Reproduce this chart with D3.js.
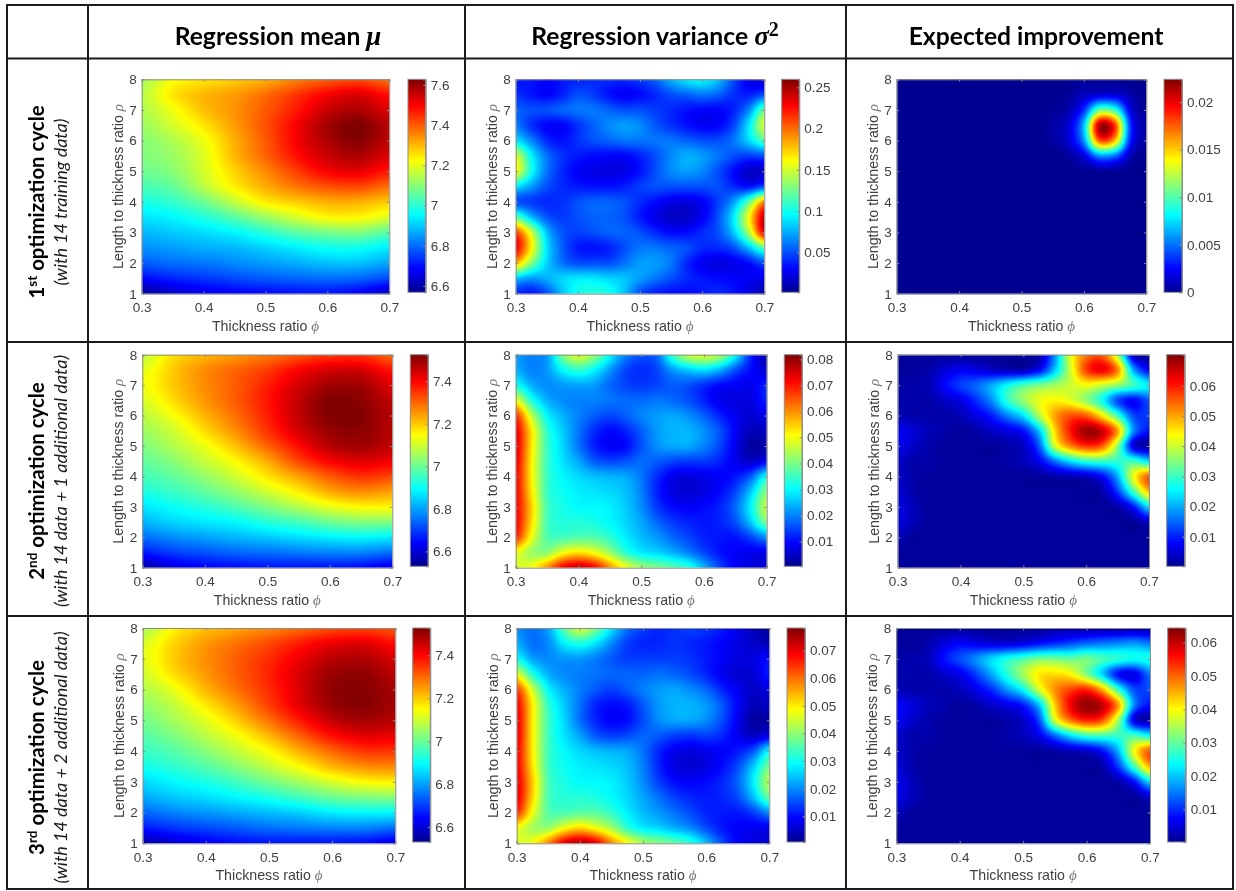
<!DOCTYPE html>
<html>
<head>
<meta charset="utf-8">
<script src="https://cdn.jsdelivr.net/npm/d3@7"></script>
<style>
html, body { margin: 0; padding: 0; background: #fff; }
svg { display: block; filter: blur(0.4px); }
</style>
</head>
<body>
<svg id="chart" width="1236" height="891"></svg>
<script>
// grid of the values, rows go from rho = 8 down to rho = 1
var rhoGrid = [8, 7.5, 7, 6.5, 6, 5.5, 5, 4.5, 4, 3.5, 3, 2.5, 2, 1.5, 1];
var phiCoarse = [.3, .35, .4, .45, .5, .55, .6, .65, .7];
var phiFine = [.3, .325, .35, .375, .4, .425, .45, .475, .5, .525, .55, .575, .6, .625, .65, .675, .7];

var mean1 = [
    [7.13, 7.22, 7.25, 7.28, 7.31, 7.36, 7.40, 7.42, 7.38],
    [7.15, 7.25, 7.30, 7.33, 7.38, 7.44, 7.50, 7.53, 7.48],
    [7.14, 7.21, 7.29, 7.34, 7.40, 7.47, 7.55, 7.58, 7.53],
    [7.12, 7.18, 7.25, 7.33, 7.41, 7.50, 7.59, 7.63, 7.57],
    [7.10, 7.14, 7.21, 7.31, 7.40, 7.50, 7.58, 7.62, 7.56],
    [7.09, 7.12, 7.19, 7.30, 7.39, 7.48, 7.55, 7.58, 7.53],
    [7.07, 7.10, 7.18, 7.27, 7.35, 7.43, 7.50, 7.52, 7.47],
    [7.03, 7.06, 7.15, 7.24, 7.31, 7.37, 7.41, 7.42, 7.38],
    [6.98, 7.01, 7.07, 7.16, 7.24, 7.28, 7.31, 7.31, 7.28],
    [6.93, 6.95, 6.99, 7.05, 7.12, 7.18, 7.23, 7.23, 7.19],
    [6.88, 6.90, 6.92, 6.95, 7.00, 7.05, 7.08, 7.09, 7.05],
    [6.84, 6.85, 6.87, 6.88, 6.91, 6.94, 6.97, 6.97, 6.94],
    [6.78, 6.80, 6.81, 6.83, 6.85, 6.87, 6.89, 6.89, 6.86],
    [6.69, 6.72, 6.74, 6.76, 6.78, 6.79, 6.80, 6.79, 6.76],
    [6.58, 6.63, 6.66, 6.68, 6.69, 6.70, 6.70, 6.68, 6.62]
];
var mean2 = [
    [7.08, 7.18, 7.22, 7.25, 7.28, 7.32, 7.35, 7.35, 7.30],
    [7.12, 7.20, 7.26, 7.30, 7.34, 7.40, 7.44, 7.44, 7.38],
    [7.13, 7.20, 7.26, 7.31, 7.37, 7.44, 7.49, 7.49, 7.43],
    [7.11, 7.18, 7.25, 7.31, 7.38, 7.46, 7.52, 7.51, 7.46],
    [7.08, 7.14, 7.22, 7.29, 7.37, 7.46, 7.52, 7.52, 7.47],
    [7.05, 7.10, 7.18, 7.26, 7.35, 7.44, 7.50, 7.51, 7.47],
    [7.02, 7.07, 7.13, 7.21, 7.30, 7.39, 7.47, 7.49, 7.46],
    [6.99, 7.03, 7.09, 7.15, 7.23, 7.33, 7.40, 7.43, 7.41],
    [6.96, 6.99, 7.04, 7.10, 7.17, 7.24, 7.31, 7.35, 7.33],
    [6.92, 6.95, 6.99, 7.04, 7.10, 7.16, 7.23, 7.26, 7.24],
    [6.87, 6.90, 6.93, 6.97, 7.02, 7.07, 7.12, 7.15, 7.15],
    [6.82, 6.85, 6.87, 6.89, 6.93, 6.96, 7.00, 7.02, 7.02],
    [6.75, 6.78, 6.80, 6.82, 6.84, 6.86, 6.88, 6.89, 6.88],
    [6.66, 6.70, 6.72, 6.74, 6.75, 6.76, 6.77, 6.77, 6.75],
    [6.56, 6.61, 6.64, 6.65, 6.66, 6.66, 6.66, 6.65, 6.62]
];
var mean3 = [
    [7.06, 7.16, 7.21, 7.24, 7.27, 7.30, 7.33, 7.34, 7.32],
    [7.11, 7.19, 7.25, 7.29, 7.33, 7.38, 7.42, 7.43, 7.39],
    [7.12, 7.20, 7.26, 7.31, 7.36, 7.42, 7.47, 7.48, 7.44],
    [7.10, 7.18, 7.25, 7.31, 7.37, 7.44, 7.50, 7.51, 7.47],
    [7.07, 7.13, 7.22, 7.29, 7.36, 7.44, 7.51, 7.52, 7.49],
    [7.04, 7.09, 7.17, 7.25, 7.34, 7.43, 7.50, 7.52, 7.49],
    [7.01, 7.06, 7.12, 7.20, 7.29, 7.38, 7.46, 7.49, 7.47],
    [6.98, 7.02, 7.08, 7.14, 7.22, 7.31, 7.39, 7.43, 7.42],
    [6.95, 6.98, 7.03, 7.09, 7.15, 7.23, 7.30, 7.35, 7.35],
    [6.91, 6.94, 6.98, 7.03, 7.09, 7.15, 7.22, 7.26, 7.27],
    [6.86, 6.89, 6.92, 6.96, 7.01, 7.06, 7.11, 7.15, 7.16],
    [6.81, 6.84, 6.86, 6.89, 6.92, 6.96, 7.00, 7.02, 7.03],
    [6.74, 6.77, 6.79, 6.81, 6.83, 6.85, 6.88, 6.89, 6.89],
    [6.66, 6.69, 6.71, 6.73, 6.75, 6.76, 6.77, 6.77, 6.75],
    [6.56, 6.60, 6.63, 6.65, 6.66, 6.66, 6.66, 6.65, 6.62]
];

var variance1 = [
    [.035, .035, .03, .035, .038, .04, .04, .04, .045, .055, .075, .09, .095, .08, .05, .025, .02],
    [.042, .035, .03, .038, .05, .045, .034, .028, .032, .04, .05, .055, .06, .055, .042, .037, .05],
    [.055, .05, .05, .055, .06, .06, .055, .05, .05, .045, .04, .034, .03, .03, .038, .065, .12],
    [.062, .042, .03, .03, .042, .055, .065, .07, .065, .052, .042, .034, .028, .03, .047, .09, .15],
    [.09, .065, .04, .034, .042, .05, .055, .06, .06, .06, .06, .055, .05, .05, .06, .085, .115],
    [.15, .095, .06, .042, .036, .032, .03, .03, .038, .05, .065, .075, .07, .06, .05, .045, .05],
    [.16, .10, .06, .04, .028, .024, .022, .024, .034, .05, .065, .07, .065, .05, .032, .016, .018],
    [.09, .07, .05, .04, .036, .034, .034, .037, .045, .05, .05, .05, .05, .05, .04, .034, .05],
    [.05, .045, .04, .042, .05, .055, .055, .05, .04, .032, .024, .022, .028, .045, .07, .12, .19],
    [.12, .08, .052, .045, .05, .055, .055, .05, .036, .024, .016, .016, .028, .05, .09, .16, .24],
    [.21, .15, .08, .052, .046, .05, .055, .055, .05, .04, .032, .032, .04, .05, .08, .14, .23],
    [.23, .165, .09, .055, .036, .034, .038, .05, .06, .06, .055, .05, .04, .04, .05, .08, .12],
    [.18, .13, .085, .06, .05, .05, .05, .06, .07, .07, .06, .04, .026, .022, .025, .032, .05],
    [.08, .07, .075, .085, .09, .09, .085, .08, .07, .06, .05, .04, .035, .032, .03, .027, .025],
    [.04, .034, .05, .08, .10, .105, .10, .08, .05, .037, .032, .032, .035, .04, .035, .022, .01]
];
var variance2 = [
    [.022, .02, .022, .04, .048, .042, .03, .02, .016, .018, .035, .046, .048, .044, .03, .012, .003],
    [.024, .02, .022, .03, .034, .03, .022, .015, .013, .015, .022, .026, .028, .024, .016, .01, .006],
    [.032, .024, .021, .022, .023, .022, .018, .015, .014, .015, .017, .016, .013, .01, .009, .008, .012],
    [.05, .033, .024, .021, .02, .02, .019, .018, .018, .019, .018, .016, .012, .008, .007, .007, .012],
    [.068, .046, .03, .024, .02, .017, .015, .017, .02, .022, .023, .021, .017, .012, .008, .006, .008],
    [.073, .053, .034, .026, .019, .013, .01, .012, .017, .022, .024, .024, .021, .016, .009, .004, .005],
    [.074, .053, .035, .027, .019, .012, .009, .01, .016, .021, .023, .023, .02, .015, .008, .002, .003],
    [.073, .052, .035, .028, .023, .017, .015, .016, .018, .017, .015, .014, .014, .012, .008, .005, .009],
    [.072, .052, .035, .03, .027, .025, .024, .023, .019, .013, .008, .007, .008, .009, .011, .017, .031],
    [.072, .053, .035, .031, .029, .028, .027, .025, .02, .012, .007, .006, .007, .01, .015, .026, .041],
    [.072, .055, .036, .032, .03, .03, .029, .026, .021, .014, .01, .009, .01, .012, .018, .03, .046],
    [.072, .054, .036, .033, .033, .032, .03, .027, .023, .018, .014, .012, .011, .012, .016, .026, .04],
    [.068, .05, .037, .036, .037, .037, .034, .029, .025, .022, .018, .015, .012, .011, .011, .015, .021],
    [.05, .043, .042, .05, .053, .05, .043, .034, .029, .027, .024, .02, .015, .011, .009, .008, .008],
    [.048, .05, .06, .072, .076, .072, .06, .05, .043, .04, .037, .033, .024, .015, .009, .007, .006]
];
var variance3 = [
    [.02, .018, .022, .036, .045, .038, .027, .018, .014, .012, .013, .014, .013, .011, .008, .004, .002],
    [.023, .018, .02, .028, .031, .027, .02, .014, .012, .012, .013, .012, .011, .009, .007, .005, .004],
    [.03, .022, .02, .021, .021, .019, .016, .014, .014, .014, .014, .013, .011, .009, .007, .007, .01],
    [.047, .032, .023, .02, .019, .018, .017, .017, .017, .018, .017, .015, .012, .008, .006, .006, .011],
    [.064, .045, .029, .023, .019, .016, .014, .016, .019, .021, .022, .02, .017, .012, .008, .005, .007],
    [.069, .05, .033, .025, .018, .012, .01, .011, .016, .021, .023, .023, .021, .016, .009, .004, .005],
    [.07, .05, .034, .026, .018, .012, .009, .01, .015, .02, .022, .022, .02, .015, .008, .002, .003],
    [.07, .05, .034, .027, .022, .016, .014, .015, .017, .016, .014, .013, .014, .012, .008, .005, .008],
    [.069, .05, .034, .029, .026, .024, .023, .022, .018, .012, .008, .007, .008, .009, .011, .016, .029],
    [.069, .051, .034, .03, .028, .027, .026, .024, .019, .012, .007, .006, .007, .01, .015, .025, .038],
    [.07, .053, .035, .031, .029, .029, .028, .025, .02, .014, .01, .009, .01, .012, .017, .028, .043],
    [.07, .052, .035, .032, .032, .031, .029, .026, .022, .018, .014, .012, .011, .012, .015, .024, .037],
    [.065, .048, .036, .035, .036, .036, .033, .028, .024, .021, .018, .015, .012, .011, .011, .014, .02],
    [.048, .042, .041, .048, .052, .048, .042, .033, .028, .026, .023, .02, .015, .011, .009, .008, .008],
    [.046, .048, .058, .07, .074, .07, .058, .049, .042, .039, .036, .032, .024, .015, .009, .007, .006]
];

var improvement1 = [
    [0, 0, 0, 0, 0, 0, 0, 0, 0, 0, 0, 0, .0003, .0003, .0003, 0, 0],
    [0, 0, 0, 0, 0, 0, 0, 0, 0, 0, 0, .0002, .001, .0016, .0016, .0006, 0],
    [0, 0, 0, 0, 0, 0, 0, 0, 0, 0, .0002, .0007, .0035, .0105, .0092, .0018, .0002],
    [0, 0, 0, 0, 0, 0, 0, 0, 0, 0, .0005, .0015, .0068, .0211, .0182, .0035, .0005],
    [0, 0, 0, 0, 0, 0, 0, 0, 0, 0, .0004, .0015, .0058, .0176, .0152, .003, .0004],
    [0, 0, 0, 0, 0, 0, 0, 0, 0, 0, 0, .0003, .0018, .0057, .0049, .0008, 0],
    [0, 0, 0, 0, 0, 0, 0, 0, 0, 0, 0, 0, .0001, .0002, .0002, 0, 0],
    [0, 0, 0, 0, 0, 0, 0, 0, 0, 0, 0, 0, 0, 0, 0, 0, 0],
    [0, 0, 0, 0, 0, 0, 0, 0, 0, 0, 0, 0, 0, 0, 0, 0, 0],
    [0, 0, 0, 0, 0, 0, 0, 0, 0, 0, 0, 0, 0, 0, 0, 0, 0],
    [0, 0, 0, 0, 0, 0, 0, 0, 0, 0, 0, 0, 0, 0, 0, 0, 0],
    [0, 0, 0, 0, 0, 0, 0, 0, 0, 0, 0, 0, 0, 0, 0, 0, 0],
    [0, 0, 0, 0, 0, 0, 0, 0, 0, 0, 0, 0, 0, 0, 0, 0, 0],
    [0, 0, 0, 0, 0, 0, 0, 0, 0, 0, 0, 0, 0, 0, 0, 0, 0],
    [0, 0, 0, 0, 0, 0, 0, 0, 0, 0, 0, 0, 0, 0, 0, 0, 0]
];
var improvement2 = [
    [.001, .001, .001, .001, .001, .001, .001, .001, .001, .002, .018, .042, .053, .055, .038, .004, .001],
    [.001, .001, .002, .005, .007, .006, .004, .003, .003, .008, .022, .04, .057, .062, .052, .02, .008],
    [.002, .002, .003, .008, .012, .015, .02, .026, .031, .034, .037, .04, .043, .04, .036, .03, .025],
    [.002, .002, .002, .004, .006, .011, .018, .029, .036, .042, .044, .042, .036, .027, .013, .008, .014],
    [.003, .002, .002, .002, .003, .006, .01, .017, .024, .038, .05, .056, .055, .045, .03, .013, .012],
    [.007, .005, .003, .002, .001, .002, .004, .006, .009, .022, .046, .06, .068, .065, .05, .018, .009],
    [.007, .004, .002, .001, .001, .001, .001, .002, .004, .014, .04, .052, .058, .055, .036, .006, .002],
    [.004, .002, .002, .001, .001, .001, .001, .002, .003, .007, .016, .024, .029, .03, .029, .03, .024],
    [.004, .002, .001, .001, .001, .001, .001, .001, .001, .001, .002, .003, .004, .008, .02, .042, .055],
    [.005, .002, .001, .001, .001, .001, .001, .001, .001, .001, .001, .001, .001, .002, .012, .03, .048],
    [.006, .003, .001, .001, .001, .001, .001, .001, .001, .001, .001, .001, .001, .001, .002, .009, .024],
    [.006, .003, .001, .001, .001, .001, .001, .001, .001, .001, .001, .001, .001, .001, .001, .001, .004],
    [.003, .001, .001, .001, .001, .001, .001, .001, .001, .001, .001, .001, .001, .001, .001, .001, .001],
    [.001, .001, .001, .001, .001, .001, .001, .001, .001, .001, .001, .001, .001, .001, .001, .001, .001],
    [.001, .001, .001, .001, .001, .001, .001, .001, .001, .001, .001, .001, .001, .001, .001, .001, .001]
];
var improvement3 = [
    [.001, .001, .001, .001, .001, .001, .001, .001, .001, .001, .002, .002, .002, .002, .002, .002, .002],
    [.001, .001, .002, .005, .007, .006, .005, .005, .006, .008, .01, .012, .014, .015, .016, .017, .015],
    [.002, .002, .003, .008, .012, .016, .021, .025, .028, .031, .031, .03, .031, .028, .026, .024, .025],
    [.002, .002, .002, .004, .006, .011, .018, .026, .034, .041, .042, .04, .032, .021, .008, .006, .015],
    [.003, .002, .002, .002, .003, .006, .01, .017, .024, .037, .047, .052, .054, .045, .027, .012, .012],
    [.007, .005, .003, .002, .001, .002, .004, .006, .009, .02, .043, .057, .063, .06, .046, .016, .008],
    [.007, .004, .002, .001, .001, .001, .001, .002, .004, .012, .037, .049, .054, .051, .034, .006, .002],
    [.004, .002, .002, .001, .001, .001, .001, .002, .003, .006, .014, .022, .027, .028, .027, .028, .024],
    [.004, .002, .001, .001, .001, .001, .001, .001, .001, .001, .002, .003, .004, .008, .019, .039, .051],
    [.005, .002, .001, .001, .001, .001, .001, .001, .001, .001, .001, .001, .001, .002, .011, .028, .045],
    [.006, .003, .001, .001, .001, .001, .001, .001, .001, .001, .001, .001, .001, .001, .002, .008, .022],
    [.006, .003, .001, .001, .001, .001, .001, .001, .001, .001, .001, .001, .001, .001, .001, .001, .004],
    [.003, .001, .001, .001, .001, .001, .001, .001, .001, .001, .001, .001, .001, .001, .001, .001, .001],
    [.001, .001, .001, .001, .001, .001, .001, .001, .001, .001, .001, .001, .001, .001, .001, .001, .001],
    [.001, .001, .001, .001, .001, .001, .001, .001, .001, .001, .001, .001, .001, .001, .001, .001, .001]
];

var phiTicks = [.3, .4, .5, .6, .7];
var rhoTicks = [1, 2, 3, 4, 5, 6, 7, 8];

// what each panel shows: values, phi grid, colorbar limits and ticks
var panels = [
    {z: mean1, phi: phiCoarse, limits: [6.568, 7.628], ticks: [6.6, 6.8, 7, 7.2, 7.4, 7.6]},
    {z: variance1, phi: phiFine, limits: [.0015, .2597], ticks: [.05, .1, .15, .2, .25]},
    {z: improvement1, phi: phiFine, limits: [0, .0224], ticks: [0, .005, .01, .015, .02]},
    {z: mean2, phi: phiCoarse, limits: [6.53, 7.524], ticks: [6.6, 6.8, 7, 7.2, 7.4]},
    {z: variance2, phi: phiFine, limits: [.0005, .0818], ticks: [.01, .02, .03, .04, .05, .06, .07, .08]},
    {z: improvement2, phi: phiFine, limits: [.0002, .0703], ticks: [.01, .02, .03, .04, .05, .06]},
    {z: mean3, phi: phiCoarse, limits: [6.53, 7.527], ticks: [6.6, 6.8, 7, 7.2, 7.4]},
    {z: variance3, phi: phiFine, limits: [.0007, .0782], ticks: [.01, .02, .03, .04, .05, .06, .07]},
    {z: improvement3, phi: phiFine, limits: [.0002, .0644], ticks: [.01, .02, .03, .04, .05, .06]}
];

// where each panel sits on the page: plot box and colorbar left/right
var frames = [
    [141.7, 389.3, 79.3, 293.7, 408, 425.7, 292.3],
    [515.7, 764.3, 79.3, 293.7, 781.7, 799.3, 292.3],
    [896.7, 1146.3, 79.3, 293.7, 1164, 1182, 292.3],
    [142.3, 392.3, 354.7, 567.7, 410.3, 428, 566.3],
    [515.7, 766.7, 354.7, 567.7, 784.3, 802, 566.3],
    [897.7, 1149, 354.7, 567.7, 1166.7, 1184.7, 566.3],
    [142.7, 395.3, 628, 843.3, 412.7, 430.3, 842],
    [516.7, 769.3, 628, 843.3, 787, 805, 842],
    [896.3, 1150, 628, 843.3, 1167.7, 1185.7, 842]
];

var svg = d3.select("#chart");
var gray = "#404040";
var boxGray = "#8c8c8c";

// jet, with the stops where matlab has them
var jetStops = [0, .11, .365, .62, .875, 1];
var jetColors = ["#000090", "#0000ff", "#00ffff", "#ffff00", "#ff0000", "#800000"];
var jet = d3.scaleLinear().domain(jetStops).range(jetColors).clamp(true);
var jetTable = d3.range(512).map(function (i) {
    return d3.rgb(jet(i / 511));
});

// table lines
var tableX = [7, 88, 465, 846, 1233];
var tableY = [5, 58.5, 342, 616, 889];
svg.append("g").selectAll("line").data(tableX).enter().append("line")
    .attr("x1", function (d) { return d; }).attr("x2", function (d) { return d; })
    .attr("y1", tableY[0] - 1).attr("y2", tableY[4] + 1)
    .attr("stroke", "#1c1c1c").attr("stroke-width", 2);
svg.append("g").selectAll("line").data(tableY).enter().append("line")
    .attr("y1", function (d) { return d; }).attr("y2", function (d) { return d; })
    .attr("x1", tableX[0] - 1).attr("x2", tableX[4] + 1)
    .attr("stroke", "#1c1c1c").attr("stroke-width", 2);

// column headers
var headerFont = "Lato, 'Open Sans', sans-serif";
var mathFont = "'Liberation Serif', 'DejaVu Serif', serif";
function header(cx, label, symbol, power) {
    var t = svg.append("text").attr("x", cx).attr("y", 44.5)
        .attr("text-anchor", "middle")
        .attr("font-family", headerFont).attr("font-weight", 700)
        .attr("font-size", 24.7).attr("fill", "#000")
        .text(label);
    if (symbol) {
        t.append("tspan").attr("font-family", mathFont).attr("font-style", "italic")
            .attr("font-size", 27).text(symbol);
    }
    if (power) {
        t.append("tspan").attr("font-family", mathFont).attr("font-size", 20)
            .attr("dy", -9).text(power);
    }
}
header(278, "Regression mean ", "\u03bc");
header(655, "Regression variance ", "\u03c3", "2");
header(1036, "Expected improvement");

// row labels, turned 90 degrees
var rowLabels = [
    {cy: 202, nth: "1", sup: "st", note: "(with 14 training data)"},
    {cy: 481, nth: "2", sup: "nd", note: "(with 14 data + 1 additional data)"},
    {cy: 757.5, nth: "3", sup: "rd", note: "(with 14 data + 2 additional data)"}
];
rowLabels.forEach(function (r) {
    var first = svg.append("text")
        .attr("transform", "translate(44," + r.cy + ") rotate(-90)")
        .attr("text-anchor", "middle")
        .attr("font-family", headerFont).attr("font-weight", 700)
        .attr("font-size", 20.4).attr("fill", "#000");
    first.append("tspan").text(r.nth);
    first.append("tspan").attr("font-size", 13.5).attr("dy", -7).text(r.sup);
    first.append("tspan").attr("dy", 7).text(" optimization cycle");
    svg.append("text")
        .attr("transform", "translate(67," + r.cy + ") rotate(-90)")
        .attr("text-anchor", "middle")
        .attr("font-family", headerFont).attr("font-style", "italic")
        .attr("font-size", 18).attr("fill", "#1a1a1a")
        .text(r.note);
});

// catmull-rom through the read values so the field is shaded smooth like the original
function cubic(a, b, c, d, t) {
    return b + 0.5 * t * (c - a + t * (2 * a - 5 * b + 4 * c - d + t * (3 * (b - c) + d - a)));
}
function sampler(z) {
    var rows = z.length, cols = z[0].length;
    function at(r, c) {
        return z[Math.max(0, Math.min(rows - 1, r))][Math.max(0, Math.min(cols - 1, c))];
    }
    return function (u, v) {
        var c = Math.floor(u), r = Math.floor(v);
        var tu = u - c, tv = v - r;
        var line = [-1, 0, 1, 2].map(function (k) {
            return cubic(at(r + k, c - 1), at(r + k, c), at(r + k, c + 1), at(r + k, c + 2), tu);
        });
        return cubic(line[0], line[1], line[2], line[3], tv);
    };
}

function drawPanel(p, f) {
    var x0 = f[0], x1 = f[1], y0 = f[2], y1 = f[3];
    var x = d3.scaleLinear().domain([.3, .7]).range([x0, x1]);
    var y = d3.scaleLinear().domain([1, 8]).range([y1, y0]);
    var colorPos = d3.scaleLinear().domain(p.limits).range([0, 511]).clamp(true);
    var col = d3.scaleLinear().domain([p.phi[0], p.phi[p.phi.length - 1]]).range([0, p.phi.length - 1]);
    var row = d3.scaleLinear().domain([rhoGrid[0], rhoGrid[rhoGrid.length - 1]]).range([0, rhoGrid.length - 1]);
    var value = sampler(p.z);

    var w = Math.round(x1 - x0), h = Math.round(y1 - y0);
    var canvas = document.createElement("canvas");
    canvas.width = w;
    canvas.height = h;
    var ctx = canvas.getContext("2d");
    var img = ctx.createImageData(w, h);
    for (var j = 0; j < h; j++) {
        var rho = y.invert(y0 + (j + 0.5) * (y1 - y0) / h);
        for (var i = 0; i < w; i++) {
            var phi = x.invert(x0 + (i + 0.5) * (x1 - x0) / w);
            var c = jetTable[Math.round(colorPos(value(col(phi), row(rho))))];
            var n = (j * w + i) * 4;
            img.data[n] = c.r;
            img.data[n + 1] = c.g;
            img.data[n + 2] = c.b;
            img.data[n + 3] = 255;
        }
    }
    ctx.putImageData(img, 0, 0);

    var g = svg.append("g");
    g.append("image")
        .attr("x", x0).attr("y", y0)
        .attr("width", x1 - x0).attr("height", y1 - y0)
        .attr("preserveAspectRatio", "none")
        .attr("href", canvas.toDataURL());

    // axes with inward ticks, matlab style
    var bottom = g.append("g").attr("transform", "translate(0," + y1 + ")")
        .call(d3.axisBottom(x).tickValues(phiTicks).tickSize(-2.5).tickPadding(9).tickFormat(d3.format(".1f")));
    var left = g.append("g").attr("transform", "translate(" + x0 + ",0)")
        .call(d3.axisLeft(y).tickValues(rhoTicks).tickSize(-2.5).tickPadding(5).tickFormat(d3.format("d")));
    var top = g.append("g").attr("transform", "translate(0," + y0 + ")")
        .call(d3.axisTop(x).tickValues(phiTicks).tickSize(-2.5).tickFormat(""));
    var right = g.append("g").attr("transform", "translate(" + x1 + ",0)")
        .call(d3.axisRight(y).tickValues(rhoTicks).tickSize(-2.5).tickFormat(""));
    [bottom, left, top, right].forEach(function (a) {
        a.selectAll("path, line").attr("stroke", boxGray).attr("stroke-width", 1);
        a.selectAll("text").attr("font-family", "'Liberation Sans', Arial, sans-serif")
            .attr("font-size", 13.5).attr("fill", gray);
    });

    var labelFont = "'Liberation Sans', Arial, sans-serif";
    var xLabel = g.append("text")
        .attr("x", (x0 + x1) / 2).attr("y", y1 + 37)
        .attr("text-anchor", "middle")
        .attr("font-family", labelFont).attr("font-size", 14.2).attr("fill", gray)
        .text("Thickness ratio ");
    xLabel.append("tspan").attr("font-style", "italic").attr("font-family", mathFont)
        .attr("fill", "#777").attr("font-size", 15).text("\u03d5");
    var yLabel = g.append("text")
        .attr("transform", "translate(" + (x0 - 19) + "," + (y0 + y1) / 2 + ") rotate(-90)")
        .attr("text-anchor", "middle")
        .attr("font-family", labelFont).attr("font-size", 14.2).attr("fill", gray)
        .text("Length to thickness ratio ");
    yLabel.append("tspan").attr("font-style", "italic").attr("font-family", mathFont)
        .attr("fill", "#777").attr("font-size", 15).text("\u03c1");

    // colorbar
    var barLeft = f[4], barRight = f[5], barBottom = f[6];
    var barScale = d3.scaleLinear().domain(p.limits).range([barBottom, y0]);
    var gradId = "jet" + panels.indexOf(p);
    var grad = svg.append("defs").append("linearGradient")
        .attr("id", gradId).attr("x1", 0).attr("x2", 0).attr("y1", 1).attr("y2", 0);
    grad.selectAll("stop").data(jetStops).enter().append("stop")
        .attr("offset", function (d) { return d; })
        .attr("stop-color", function (d, i) { return jetColors[i]; });
    g.append("rect")
        .attr("x", barLeft).attr("y", y0)
        .attr("width", barRight - barLeft).attr("height", barBottom - y0)
        .attr("fill", "url(#" + gradId + ")");
    var barAxis = g.append("g").attr("transform", "translate(" + barRight + ",0)")
        .call(d3.axisRight(barScale).tickValues(p.ticks).tickSize(-2.5).tickPadding(5).tickFormat(function (d) {
            return String(+d.toFixed(3));
        }));
    barAxis.selectAll("path, line").attr("stroke", boxGray);
    barAxis.selectAll("text").attr("font-family", labelFont).attr("font-size", 13.5).attr("fill", gray);
    g.append("rect")
        .attr("x", barLeft).attr("y", y0)
        .attr("width", barRight - barLeft).attr("height", barBottom - y0)
        .attr("fill", "none").attr("stroke", boxGray);
}

panels.forEach(function (p, i) {
    drawPanel(p, frames[i]);
});
</script>
</body>
</html>
